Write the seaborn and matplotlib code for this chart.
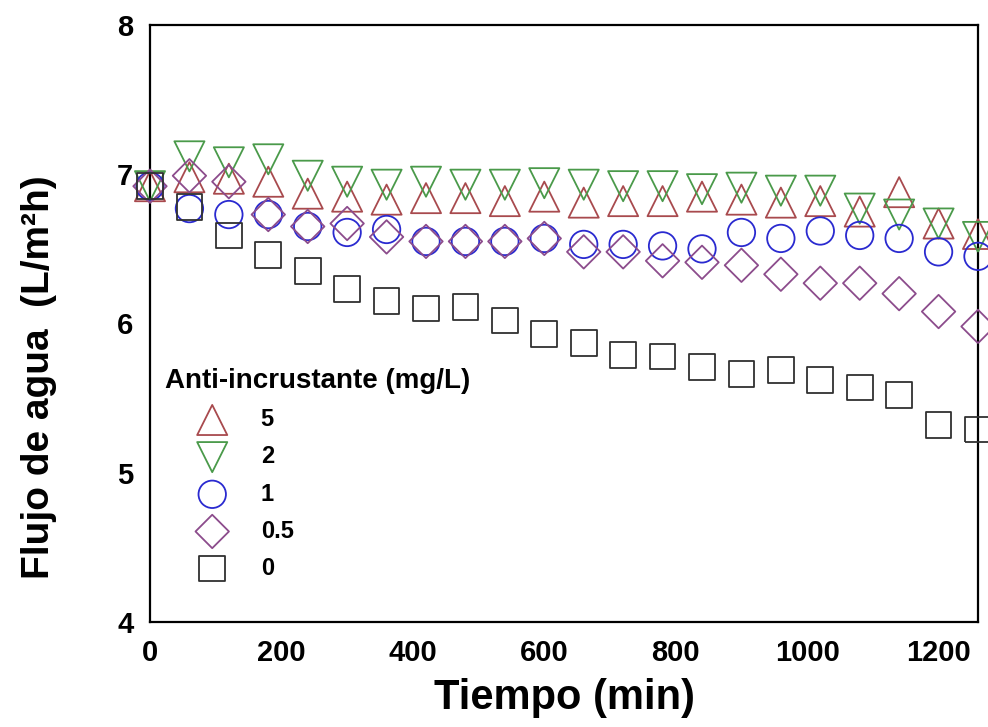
import matplotlib
matplotlib.use("Agg")
import matplotlib.pyplot as plt
import pandas as pd
import seaborn as sns

# ---- data ----
tiempo = [0, 60, 120, 180, 240, 300, 360, 420, 480, 540, 600,
          660, 720, 780, 840, 900, 960, 1020, 1080, 1140, 1200, 1260]
flujo_5 = [6.92, 6.98, 6.97, 6.95, 6.87, 6.85, 6.83, 6.84, 6.84, 6.82, 6.85,
           6.81, 6.82, 6.82, 6.85, 6.83, 6.81, 6.82, 6.75, 6.88, 6.67, 6.60]
flujo_2 = [6.92, 7.12, 7.08, 7.10, 6.99, 6.95, 6.93, 6.95, 6.93, 6.93, 6.94,
           6.93, 6.92, 6.92, 6.90, 6.91, 6.89, 6.89, 6.77, 6.73, 6.67, 6.58]
flujo_1 = [6.92, 6.77, 6.73, 6.73, 6.65, 6.61, 6.63, 6.55, 6.55, 6.55, 6.57,
           6.53, 6.53, 6.52, 6.50, 6.61, 6.57, 6.62, 6.59, 6.57, 6.48, 6.45]
flujo_05 = [6.92, 6.99, 6.95, 6.73, 6.65, 6.67, 6.58, 6.55, 6.55, 6.55, 6.57,
            6.48, 6.48, 6.42, 6.41, 6.39, 6.33, 6.27, 6.27, 6.20, 6.08, 5.98]
flujo_0 = [6.92, 6.78, 6.59, 6.46, 6.35, 6.23, 6.15, 6.10, 6.11, 6.02, 5.93,
           5.87, 5.79, 5.78, 5.71, 5.66, 5.69, 5.62, 5.57, 5.52, 5.32, 5.29]

series_labels = ["5", "2", "1", "0.5", "0"]
series_values = [flujo_5, flujo_2, flujo_1, flujo_05, flujo_0]
x_ticks = [0, 200, 400, 600, 800, 1000, 1200]
y_ticks = [4, 5, 6, 7, 8]

# ---- styles ----
styles = {
    "5":   dict(marker="^", color="#a84a4e", s=470),
    "2":   dict(marker="v", color="#4a9a4a", s=470),
    "1":   dict(marker="o", color="#2a2ad0", s=390),
    "0.5": dict(marker="D", color="#8c4c8c", s=290),
    "0":   dict(marker="s", color="#303030", s=340),
}

df = pd.concat(
    [pd.DataFrame({"Tiempo": tiempo, "Flujo": v, "Dosis": lab})
     for lab, v in zip(series_labels, series_values)],
    ignore_index=True,
)

sns.set_style("white")
plt.rcParams["font.family"] = ["Liberation Sans", "DejaVu Sans"]
plt.rcParams["font.weight"] = "bold"
plt.rcParams["text.color"] = "black"
plt.rcParams["axes.labelcolor"] = "black"
plt.rcParams["xtick.color"] = "black"
plt.rcParams["ytick.color"] = "black"

fig = plt.figure(figsize=(9.88, 7.27), dpi=100)
ax = fig.add_axes([150 / 988, 1 - 622 / 727, 828 / 988, 597 / 727])

for lab in series_labels:
    st = styles[lab]
    sub = df[df["Dosis"] == lab]
    sns.scatterplot(data=sub, x="Tiempo", y="Flujo", ax=ax,
                    marker=st["marker"], s=st["s"],
                    facecolor="none", edgecolor=st["color"],
                    linewidth=1.3, label=lab, clip_on=False, zorder=3)

ax.set_xlim(0, 1260)
ax.set_ylim(4, 8)
ax.set_xticks(x_ticks)
ax.set_yticks(y_ticks)
ax.set_xticklabels([str(v) for v in x_ticks])
ax.set_yticklabels([str(v) for v in y_ticks])
ax.tick_params(axis="both", direction="in", length=7, width=1.3,
               labelsize=21, pad=12, colors="black")
for lbl in ax.get_xticklabels() + ax.get_yticklabels():
    lbl.set_fontweight("bold")
for sp in ax.spines.values():
    sp.set_visible(True)
    sp.set_linewidth(1.6)
    sp.set_color("black")

ax.set_xlabel("Tiempo (min)", fontsize=30, fontweight="bold", color="black")
ax.set_ylabel("Flujo de agua  (L/m²h)", fontsize=28, fontweight="bold", color="black")
ax.xaxis.set_label_coords(0.5, -0.093)
ax.yaxis.set_label_coords(-0.112, 0.41)

leg = ax.legend(title="Anti-incrustante (mg/L)", frameon=False,
                loc="upper left", bbox_to_anchor=(165 / 988, 1 - 368 / 727),
                bbox_transform=fig.transFigure, borderaxespad=0, borderpad=0,
                fontsize=17, title_fontsize=20, alignment="left",
                handlelength=4.0, handletextpad=0.05, labelspacing=0.6)
for t in leg.get_texts():
    t.set_fontweight("bold")
    t.set_color("black")
leg.get_title().set_fontweight("bold")
leg.get_title().set_color("black")

fig.savefig("out.png", dpi=100)
